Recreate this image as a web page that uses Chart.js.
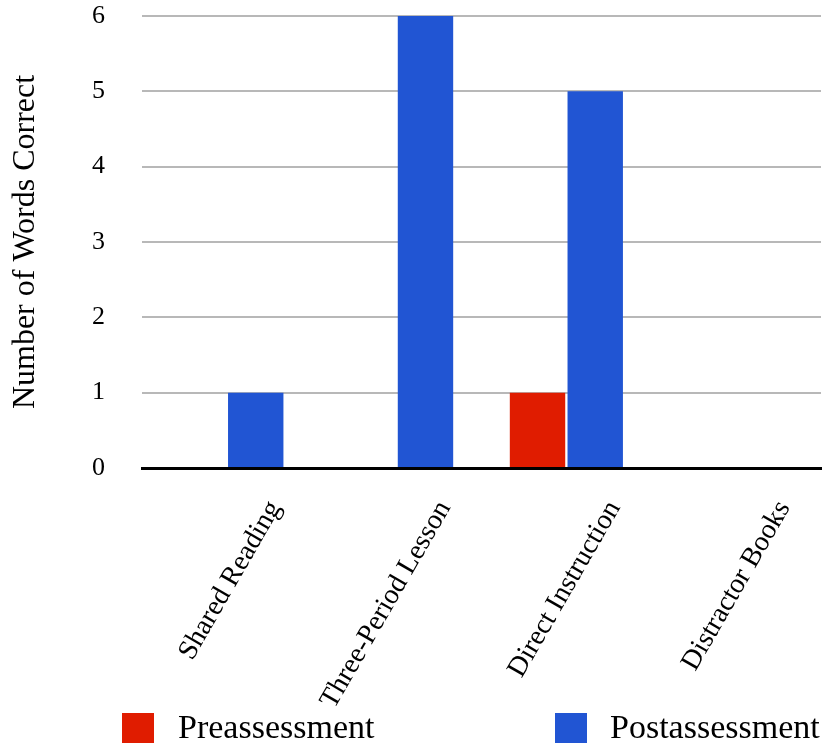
<!DOCTYPE html>
<html>
<head>
<meta charset="utf-8">
<script src="https://cdn.jsdelivr.net/npm/chart.js@4"></script>
<style>
  html, body { margin: 0; padding: 0; background: #fff; }
  #wrap { position: relative; width: 830px; height: 750px; overflow: hidden; }
  #c { position: absolute; left: 0; top: 0; }
  .sw { position: absolute; width: 32px; height: 30px; }
  .lt { position: absolute; font-family: "Liberation Serif", "Times New Roman", serif; font-size: 34px; line-height: 34px; color: #000; white-space: nowrap; }
</style>
</head>
<body>
<div id="wrap">
  <canvas id="c" width="830" height="750"></canvas>
  <div class="sw" id="sw0" style="left:122px; top:713px;"></div>
  <div class="lt" id="lt0" style="left:178px; top:710px;"></div>
  <div class="sw" id="sw1" style="left:555px; top:713px;"></div>
  <div class="lt" id="lt1" style="left:610px; top:710px;"></div>
</div>
<script>
const categories = ["Shared Reading", "Three-Period Lesson", "Direct Instruction", "Distractor Books"];
const seriesNames = ["Preassessment", "Postassessment"];
const preassessment = [0, 0, 1, 0];
const postassessment = [1, 6, 5, 0];
const yAxisTitle = "Number of Words Correct";
const colors = ["#e01c00", "#2155d3"];

document.getElementById('sw0').style.background = colors[0];
document.getElementById('sw1').style.background = colors[1];
document.getElementById('lt0').textContent = seriesNames[0];
document.getElementById('lt1').textContent = seriesNames[1];

const serif = "'Liberation Serif', 'Times New Roman', serif";

new Chart(document.getElementById('c'), {
  type: 'bar',
  data: {
    labels: categories,
    datasets: [
      { label: seriesNames[0], data: preassessment, backgroundColor: colors[0], borderWidth: 0 },
      { label: seriesNames[1], data: postassessment, backgroundColor: colors[1], borderWidth: 0 }
    ]
  },
  options: {
    responsive: false,
    animation: false,
    devicePixelRatio: 1,
    layout: { padding: { top: 16, right: 9, bottom: 0, left: 0 } },
    categoryPercentage: 0.68,
    barPercentage: 0.96,
    plugins: { legend: { display: false }, tooltip: { enabled: false } },
    scales: {
      x: {
        grid: { display: false, drawTicks: false },
        border: { display: true, color: '#000', width: 3 },
        ticks: {
          color: '#000',
          font: { family: serif, size: 28 },
          minRotation: 60,
          maxRotation: 60,
          padding: 27,
          labelOffset: 48,
          autoSkip: false
        },
        afterFit: s => { s.height = 282; s.paddingLeft = 0; s.paddingRight = 0; s.paddingTop = 0; s.paddingBottom = 0; }
      },
      y: {
        min: 0,
        max: 6,
        grid: { color: '#b8b8b8', lineWidth: 2, drawTicks: false },
        border: { display: false },
        ticks: {
          stepSize: 1,
          color: '#000',
          font: { family: serif, size: 26 },
          padding: 37
        },
        title: {
          display: true,
          text: yAxisTitle,
          color: '#000',
          font: { family: serif, size: 32, weight: 'normal' },
          padding: { top: 6, bottom: 0 }
        },
        afterFit: s => { s.width = 142; s.paddingTop = 0; s.paddingBottom = 0; }
      }
    }
  }
});
</script>
</body>
</html>
